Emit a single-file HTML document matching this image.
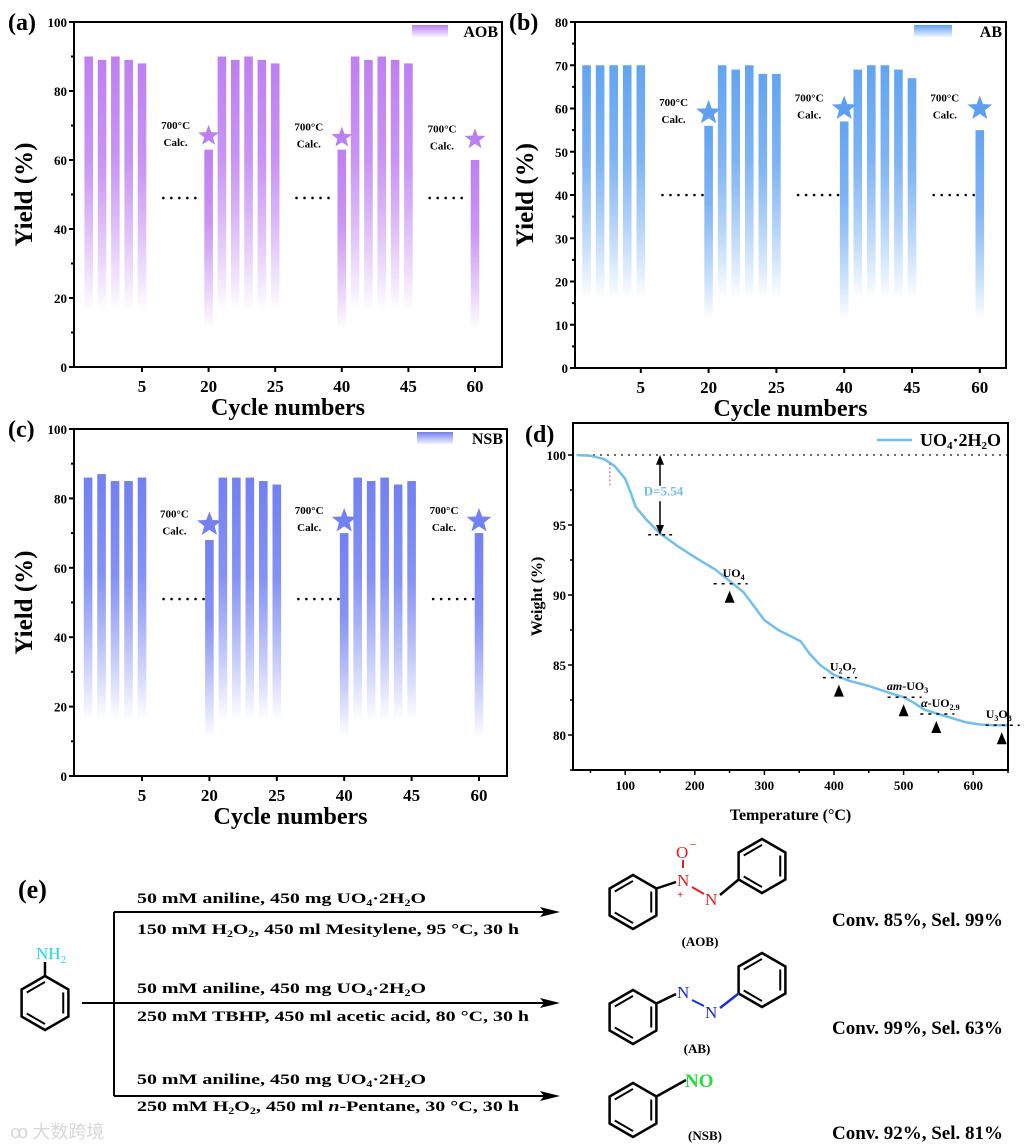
<!DOCTYPE html>
<html><head><meta charset="utf-8"><style>
html,body{margin:0;padding:0;background:#fff}
svg{display:block}
text{font-family:"Liberation Serif","Noto Serif CJK SC",serif;font-weight:bold}
</style></head><body>
<svg id="fig" width="1024" height="1148" viewBox="0 0 1024 1148" xmlns="http://www.w3.org/2000/svg">
<defs>
<linearGradient id="gA" x1="0" y1="0" x2="0" y2="1"><stop offset="0" stop-color="#bf7ff2"/><stop offset="0.4" stop-color="#c994f4"/><stop offset="1" stop-color="#bf7ff2" stop-opacity="0"/></linearGradient>
<linearGradient id="gB" x1="0" y1="0" x2="0" y2="1"><stop offset="0" stop-color="#62a4f2"/><stop offset="0.4" stop-color="#7fb4f4"/><stop offset="1" stop-color="#62a4f2" stop-opacity="0"/></linearGradient>
<linearGradient id="gC" x1="0" y1="0" x2="0" y2="1"><stop offset="0" stop-color="#7280f2"/><stop offset="0.4" stop-color="#8592f4"/><stop offset="1" stop-color="#7280f2" stop-opacity="0"/></linearGradient>
<linearGradient id="lg" x1="0" y1="0" x2="0" y2="1"><stop offset="0" stop-color="#fff" stop-opacity="0"/><stop offset="1" stop-color="#fff" stop-opacity="0.9"/></linearGradient>
</defs>
</svg>
<script>
// ---- Data: panels a, b, c ----
const cycleIdx = [1,2,3,4,5,10,11,12,13,14,15,20,21,22,23,24,25,30];
const tickIdx = [5,10,15,20,25,30];
const tickLabels = ["5","20","25","40","45","60"];
const yieldAOB = [90,89,90,89,88,63,90,89,90,89,88,63,90,89,90,89,88,60];
const yieldAB  = [70,70,70,70,70,56,70,69,70,68,68,57,69,70,70,69,67,55];
const yieldNSB = [86,87,85,85,86,68,86,86,86,85,84,70,86,85,86,84,85,70];
const starIdx = [10,20,30];
const starAOB = [67,66.5,66];
const starAB = [59,60,60];
const starNSB = [72.5,73.5,73.5];
// ---- Data: panel d (TGA) ----
const tgaT = [30,50,70,85,100,108,115,130,150,175,200,230,250,270,285,300,320,340,352,365,380,400,420,450,480,500,515,530,550,570,590,610,630,650];
const tgaW = [100,99.95,99.7,99.2,98.3,97.3,96.3,95.4,94.4,93.5,92.7,91.8,91.0,90.2,89.2,88.2,87.5,87.0,86.7,85.8,85.0,84.3,83.9,83.5,83.0,82.7,82.3,81.8,81.5,81.2,80.9,80.75,80.7,80.7];
const phaseT = [250,407,500,547,641];
const phaseW = [90.8,84.1,82.7,81.5,80.7];
const phaseLabels = ["UO<tspan font-size='8' dy='3'>4</tspan>","U<tspan font-size='8' dy='3'>2</tspan><tspan dy='-3'>O</tspan><tspan font-size='8' dy='3'>7</tspan>","<tspan font-style='italic'>am</tspan>-UO<tspan font-size='8' dy='3'>3</tspan>","<tspan font-style='italic'>α</tspan>-UO<tspan font-size='8' dy='3'>2.9</tspan>","U<tspan font-size='8' dy='3'>3</tspan><tspan dy='-3'>O</tspan><tspan font-size='8' dy='3'>8</tspan>"];

const NS="http://www.w3.org/2000/svg";
const svg=document.getElementById('fig');
function mk(tag,attrs,parent){const e=document.createElementNS(NS,tag);for(const k in attrs)e.setAttribute(k,attrs[k]);(parent||svg).appendChild(e);return e;}
function txt(x,y,s,size,parent,extra){const e=mk('text',Object.assign({x:x,y:y,'font-size':size},extra||{}),parent);e.innerHTML=s;return e;}
function starPts(cx,cy,R){let p=[];for(let i=0;i<10;i++){const r=i%2?R*0.42:R;const a=-Math.PI/2+i*Math.PI/5;p.push((cx+r*Math.cos(a)).toFixed(1)+','+(cy+r*Math.sin(a)).toFixed(1));}return p.join(' ');}

function barPanel(o){
  const g=mk('g',{});
  
  
  const X=i=>o.x0+o.step*i;
  const Y=v=>o.bottom-(v/o.ymax)*(o.bottom-o.top);
  o.vals.forEach((v,k)=>{
    const fadeV = k===5||k===11||k===17 ? 11 : 16;
    const r=mk('rect',{x:X(cycleIdx[k])-4.3,y:Y(v),width:8.6,height:Y(fadeV)-Y(v),fill:'url(#'+o.grad+')'},g);
    
    
  });
  for(let s=0;s<3;s++){
    const l=mk('line',{x1:X(6.6+10*s),x2:X(9.6+10*s),y1:Y(o.dotY),y2:Y(o.dotY),stroke:'#000','stroke-width':2.6,'stroke-dasharray':'0 8','stroke-linecap':'round'},g);
    
    
  }
  starIdx.forEach((si,k)=>{
    const s=mk('polygon',{points:starPts(X(si),Y(o.stars[k]),o.starR),fill:o.starCol},g);
    
    
    const t1=txt(X(si)-o.starR-22,Y(o.stars[k])-7,'700°C',11,g,{'text-anchor':'middle'});
    
    
    txt(X(si)-o.starR-22,Y(o.stars[k])+10,'Calc.',11,g,{'text-anchor':'middle'});
  });
  const box=mk('rect',{x:o.left,y:o.top,width:o.right-o.left,height:o.bottom-o.top,fill:'none',stroke:'#000','stroke-width':2},g);
  
  
  for(let v=0;v<=o.ymax;v+=o.minor){
    const major=(v%o.major)===0;
    mk('line',{x1:o.left-(major?5:3),x2:o.left,y1:Y(v),y2:Y(v),stroke:'#000','stroke-width':2},g);
    if(major){const t=txt(o.left-7,Y(v)+5,String(v),13,g,{'text-anchor':'end'});}
  }
  tickIdx.forEach((ti,k)=>{
    mk('line',{x1:X(ti),x2:X(ti),y1:o.bottom,y2:o.bottom+5,stroke:'#000','stroke-width':2},g);
    const t=txt(X(ti),o.bottom+25,tickLabels[k],17,g,{'text-anchor':'middle'});
    
    
  });
  const xt=txt((o.left+o.right)/2,o.bottom+48,'Cycle numbers',24,g,{'text-anchor':'middle'});
  
  
  const yt=txt(0,0,'Yield (%)',25,g,{'text-anchor':'middle',transform:'translate('+(o.left-42)+','+((o.top+o.bottom)/2)+') rotate(-90)'});
  
  
  const pl=txt(o.left-66,o.top+8,o.label,24,g);
  
  
  const lgx=o.right-o.legW-46;
  const lr=mk('rect',{x:lgx,y:o.top+3,width:o.legW-8,height:12,fill:o.starCol},g);
  
  
  mk('rect',{x:lgx,y:o.top+3,width:o.legW-8,height:12,fill:'url(#lg)'},g);
  const lt=txt(o.right-4,o.top+15,o.legend,16,g,{'text-anchor':'end'});
  
  
}

barPanel({name:'panel-a-aob-chart',tag:'aob',label:'(a)',legend:'AOB',legW:44,vals:yieldAOB,stars:starAOB,grad:'gA',starCol:'#bd80f0',left:74,right:502,top:22,bottom:367,ymax:100,major:20,minor:10,x0:75.4,step:13.32,dotY:49,starR:11});
barPanel({name:'panel-b-ab-chart',tag:'ab',label:'(b)',legend:'AB',legW:46,vals:yieldAB,stars:starAB,grad:'gB',starCol:'#5e9ff0',left:575,right:1006,top:22,bottom:368,ymax:80,major:10,minor:5,x0:573,step:13.56,dotY:40,starR:13});
barPanel({name:'panel-c-nsb-chart',tag:'nsb',label:'(c)',legend:'NSB',legW:44,vals:yieldNSB,stars:starNSB,grad:'gC',starCol:'#7380f0',left:74,right:507,top:429,bottom:776,ymax:100,major:20,minor:10,x0:74.6,step:13.48,dotY:51,starR:13});

// ---- Panel d ----
(function(){
  const g=mk('g',{});
  
  
  const L=573,R=1008,T=423,B=770;
  const X=t=>L+(t-25)*(R-L)/625;
  const Y=w=>455+(100-w)*14;
  mk('line',{x1:L,x2:R,y1:Y(100),y2:Y(100),stroke:'#000','stroke-width':1.8,'stroke-dasharray':'0 7','stroke-linecap':'round'},g);
  const d=tgaT.map((t,i)=>(i?'L':'M')+X(t).toFixed(1)+','+Y(tgaW[i]).toFixed(1)).join(' ');
  const c=mk('path',{d:d,fill:'none',stroke:'#6fc0ec','stroke-width':2.5,'stroke-linejoin':'round'},g);
  
  
  mk('line',{x1:X(78),x2:X(78),y1:Y(99.4),y2:Y(97.7),stroke:'#e04060','stroke-width':1,'stroke-dasharray':'2 2'},g);
  mk('line',{x1:X(150),x2:X(150),y1:Y(99.6),y2:Y(97.8),stroke:'#000','stroke-width':1.5},g);
  mk('polygon',{points:X(150)+','+Y(100)+' '+(X(150)-4)+','+Y(99.3)+' '+(X(150)+4)+','+Y(99.3),fill:'#000'},g);
  mk('line',{x1:X(150),x2:X(150),y1:Y(96.7),y2:Y(94.9),stroke:'#000','stroke-width':1.5},g);
  mk('polygon',{points:X(150)+','+Y(94.3)+' '+(X(150)-4)+','+Y(95)+' '+(X(150)+4)+','+Y(95),fill:'#000'},g);
  mk('line',{x1:X(133),x2:X(168),y1:Y(94.3),y2:Y(94.3),stroke:'#000','stroke-width':1.5,'stroke-dasharray':'3 4'},g);
  const dl=txt(X(155),Y(97.1),'D=5.54',13,g,{'text-anchor':'middle',fill:'#6fc0ec'});
  
  
  phaseT.forEach((t,k)=>{
    const y=Y(phaseW[k]);
    mk('line',{x1:X(t)-16,x2:X(t)+18,y1:y,y2:y,stroke:'#000','stroke-width':1.5,'stroke-dasharray':'3 5'},g);
    const tri=mk('polygon',{points:X(t)+','+(y+7)+' '+(X(t)-5)+','+(y+19)+' '+(X(t)+5)+','+(y+19),fill:'#000'},g);
    
    
    const lb=txt(X(t)+(k===4?-3:4),y-7,phaseLabels[k],12,g,{'text-anchor':'middle'});
    
    
  });
  const box=mk('rect',{x:L,y:T,width:R-L,height:B-T,fill:'none',stroke:'#000','stroke-width':2},g);
  
  
  for(let w=77.5;w<=101;w+=2.5){const maj=(w%5)===0;mk('line',{x1:L-(maj?5:3),x2:L,y1:Y(w),y2:Y(w),stroke:'#000','stroke-width':1.5},g);
    if(maj){const t=txt(L-7,Y(w)+5,String(w),13,g,{'text-anchor':'end'});}}
  for(let t=50;t<=650;t+=50){const maj=(t%100)===0;mk('line',{x1:X(t),x2:X(t),y1:B,y2:B+(maj?5:3),stroke:'#000','stroke-width':1.5},g);
    if(maj){const tl=txt(X(t),B+20,String(t),13,g,{'text-anchor':'middle'});}}
  const xt=txt((L+R)/2,B+50,'Temperature (°C)',16,g,{'text-anchor':'middle'});
  
  
  const yt=txt(0,0,'Weight (%)',16,g,{'text-anchor':'middle',transform:'translate(542,'+((T+B)/2)+') rotate(-90)'});
  
  
  const pl=txt(525,442,'(d)',24,g);
  
  
  const ll=mk('line',{x1:877,x2:912,y1:440,y2:440,stroke:'#6fc0ec','stroke-width':2.5},g);
  
  
  const lt=txt(920,446,'UO<tspan font-size="11" dy="3">4</tspan><tspan dy="-3">·2H</tspan><tspan font-size="11" dy="3">2</tspan><tspan dy="-3">O</tspan>',18,g);
  
  
})();

// ---- Panel e: reaction scheme ----
(function(){
  const g=mk('g',{});
  
  
  function ring(cx,cy,r,name){
    const pts=[];for(let i=0;i<6;i++){const a=-Math.PI/2+i*Math.PI/3;pts.push([cx+r*Math.cos(a),cy+r*Math.sin(a)]);}
    const p=mk('polygon',{points:pts.map(q=>q.map(v=>v.toFixed(1)).join(',')).join(' '),fill:'none',stroke:'#000','stroke-width':2.5},g);
    
    
    [[1,2],[3,4],[5,0]].forEach(([a,b])=>{const ia=[cx+(pts[a][0]-cx)*0.78,cy+(pts[a][1]-cy)*0.78],ib=[cx+(pts[b][0]-cx)*0.78,cy+(pts[b][1]-cy)*0.78];
      mk('line',{x1:ia[0],y1:ia[1],x2:ib[0],y2:ib[1],stroke:'#000','stroke-width':2},g);});
    return pts;
  }
  const T=(x,y,s,size,extra)=>txt(x,y,s,size,g,extra);
  const pl=T(18,898,'(e)',26);
  
  
  const an=ring(45,1003,27,'aniline-ring');
  mk('line',{x1:an[0][0],y1:an[0][1],x2:45,y2:962,stroke:'#000','stroke-width':2.5},g);
  T(36,959,'NH<tspan font-size="11" dy="4">2</tspan>',17,{fill:'#1ad6e8',style:'font-weight:normal'});
  mk('line',{x1:114,x2:114,y1:912,y2:1096,stroke:'#000','stroke-width':2},g);
  [[114,912],[82,1003],[114,1096]].forEach(([x0,y])=>{
    const a=mk('line',{x1:x0,x2:545,y1:y,y2:y,stroke:'#000','stroke-width':2},g);
    
    
    mk('polygon',{points:'560,'+y+' 540,'+(y-5)+' 544,'+y+' 540,'+(y+5),fill:'#000'},g);
  });
  const cond=[[903,'50 mM aniline, 450 mg UO<tspan font-size="9" dy="3">4</tspan><tspan dy="-3">·2H</tspan><tspan font-size="9" dy="3">2</tspan><tspan dy="-3">O</tspan>'],
    [934,'150 mM H<tspan font-size="9" dy="3">2</tspan><tspan dy="-3">O</tspan><tspan font-size="9" dy="3">2</tspan><tspan dy="-3">, 450 ml Mesitylene, 95 °C, 30 h</tspan>'],
    [993,'50 mM aniline, 450 mg UO<tspan font-size="9" dy="3">4</tspan><tspan dy="-3">·2H</tspan><tspan font-size="9" dy="3">2</tspan><tspan dy="-3">O</tspan>'],
    [1021,'250 mM TBHP, 450 ml acetic acid, 80 °C, 30 h'],
    [1084,'50 mM aniline, 450 mg UO<tspan font-size="9" dy="3">4</tspan><tspan dy="-3">·2H</tspan><tspan font-size="9" dy="3">2</tspan><tspan dy="-3">O</tspan>'],
    [1111,'250 mM H<tspan font-size="9" dy="3">2</tspan><tspan dy="-3">O</tspan><tspan font-size="9" dy="3">2</tspan><tspan dy="-3">, 450 ml </tspan><tspan font-style="italic">n</tspan>-Pentane, 30 °C, 30 h']];
  cond.forEach(([y,s])=>{const t=T(137,y,s,15,{textLength:y===903||y===993||y===1084?289:(y===1021?392:382),lengthAdjust:'spacingAndGlyphs'});});
  const a1=ring(633,902,27,'aob-left-ring');
  const a2=ring(762,866,27,'aob-right-ring');
  mk('line',{x1:a1[1][0],y1:a1[1][1],x2:676,y2:882,stroke:'#000','stroke-width':2.5},g);
  mk('line',{x1:683,y1:860,x2:683,y2:868,stroke:'#e02020','stroke-width':2},g);
  mk('line',{x1:692,y1:887,x2:704,y2:894,stroke:'#e02020','stroke-width':2},g);
  mk('line',{x1:720,y1:895,x2:a2[4][0],y2:a2[4][1],stroke:'#000','stroke-width':2.5},g);
  T(677,886,'N',17,{fill:'#e02020',style:'font-weight:normal'});
  T(676,858,'O',17,{fill:'#e02020',style:'font-weight:normal'});
  T(690,848,'−',11,{fill:'#e02020'});
  T(677,898,'+',11,{fill:'#e02020'});
  T(705,905,'N',17,{fill:'#e02020',style:'font-weight:normal'});
  T(700,946,'(AOB)',13,{'text-anchor':'middle'});
  const b1=ring(633,1017,27,'ab-left-ring');
  const b2=ring(762,980,27,'ab-right-ring');
  mk('line',{x1:b1[1][0],y1:b1[1][1],x2:676,y2:994,stroke:'#000','stroke-width':2.5},g);
  mk('line',{x1:692,y1:1000,x2:704,y2:1006,stroke:'#1a2ae0','stroke-width':2},g);
  mk('line',{x1:720,y1:1008,x2:b2[4][0],y2:b2[4][1],stroke:'#1a2ae0','stroke-width':2.5},g);
  T(677,998,'N',17,{fill:'#1a2ae0',style:'font-weight:normal'});
  T(705,1018,'N',17,{fill:'#1a2ae0',style:'font-weight:normal'});
  T(697,1053,'(AB)',13,{'text-anchor':'middle'});
  const n1=ring(633,1110,27,'nsb-ring');
  mk('line',{x1:n1[1][0],y1:n1[1][1],x2:686,y2:1080,stroke:'#000','stroke-width':2.5},g);
  T(685,1087,'NO',19,{fill:'#22e03a'});
  T(705,1140,'(NSB)',13,{'text-anchor':'middle'});
  [[926,'Conv. 85%, Sel. 99%'],[1034,'Conv. 99%, Sel. 63%'],[1139,'Conv. 92%, Sel. 81%']].forEach(([y,s])=>{
    const t=T(1003,y,s,19,{'text-anchor':'end'});
    
    
  });
  const wm=T(10,1138,'ꝏ 大数跨境',18,{fill:'#d8d8d8',style:'font-family:\"Noto Sans CJK SC\",sans-serif;font-weight:normal'});
  
  
})();
</script>
</body></html>
